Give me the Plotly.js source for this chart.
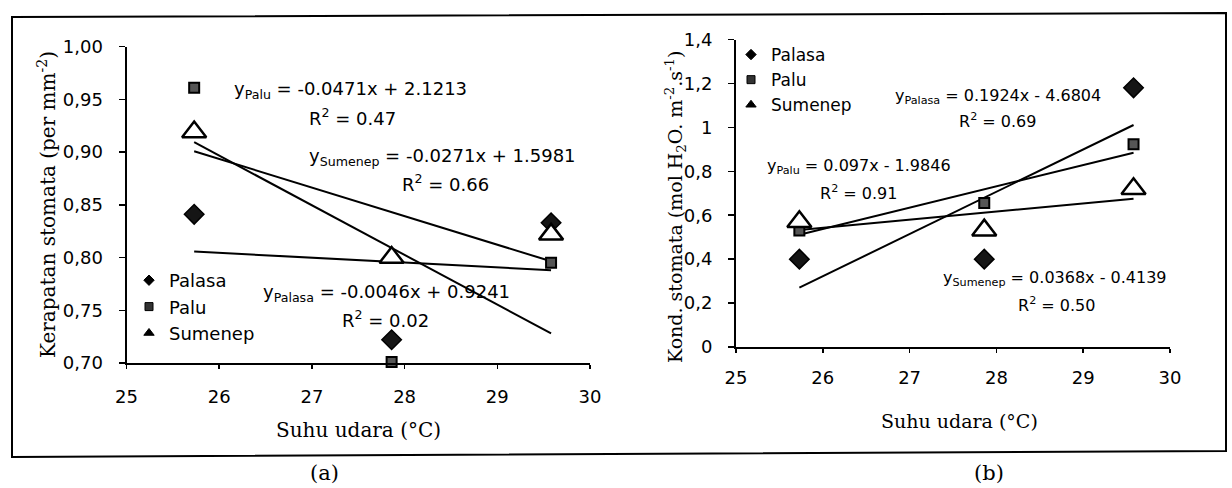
<!DOCTYPE html>
<html><head><meta charset="utf-8">
<script src="https://cdn.plot.ly/plotly-3.0.1.min.js"></script>
<style>html,body{margin:0;padding:0;background:#fff}#chart{width:1232px;height:488px}</style>
</head><body><div id="chart"></div>
<script>
// ---- data ----
const temps = [25.73, 27.86, 29.58];
const seriesNames = ['Palasa', 'Palu', 'Sumenep'];
// (a) stomatal density (per mm^-2)
const densPalasa = [0.841, 0.722, 0.833];
const densPalu = [0.961, 0.701, 0.795];
const densSumenep = [0.919, 0.800, 0.822];
const densSlope = [-0.0046, -0.0471, -0.0271];
const densIntercept = [0.9241, 2.1213, 1.5981];
const densR2 = ['0.02', '0.47', '0.66'];
// (b) stomatal conductance
const condPalasa = [0.40, 0.40, 1.18];
const condPalu = [0.53, 0.656, 0.923];
const condSumenep = [0.57, 0.532, 0.72];
const condSlope = [0.1924, 0.097, 0.0368];
const condIntercept = [-4.6804, -1.9846, -0.4139];
const condR2 = ['0.69', '0.91', '0.50'];
// ticks
const xTicks = [25, 26, 27, 28, 29, 30];
const densTickVals = [0.70, 0.75, 0.80, 0.85, 0.90, 0.95, 1.00];
const densTickText = ['0,70', '0,75', '0,80', '0,85', '0,90', '0,95', '1,00'];
const condTickVals = [0, 0.2, 0.4, 0.6, 0.8, 1, 1.2, 1.4];
const condTickText = ['0', '0,2', '0,4', '0,6', '0,8', '1', '1,2', '1,4'];

// ---- helpers ----
const W = 1232, H = 488;
const px = v => v / W;
const py = v => 1 - v / H;
const SANS = 'DejaVu Sans';
const SERIF = 'DejaVu Serif';

const markerStyles = [
  {symbol: 'diamond', size: 15, color: '#151515', line: {color: '#000', width: 1.5}},
  {symbol: 'square', size: 10, color: '#555', line: {color: '#000', width: 2}},
  {symbol: 'triangle-up', size: 21, color: '#fff', line: {color: '#000', width: 2.5}}
];
const legendStyles = [
  {symbol: 'diamond', size: 8, color: '#000', line: {color: '#000', width: 1}},
  {symbol: 'square', size: 8, color: '#333', line: {color: '#000', width: 1}},
  {symbol: 'triangle-up', size: 9, color: '#000', line: {color: '#000', width: 1}}
];

function eqText(name, slope, intercept) {
  const sign = intercept < 0 ? ' - ' : ' + ';
  return 'y<sub>' + name + '</sub> = ' + String(slope) + 'x' + sign + String(Math.abs(intercept));
}

const traces = [];
function addPanel(values, slopes, intercepts, xa, ya, legendId) {
  const xmin = Math.min(...temps), xmax = Math.max(...temps);
  for (let i = 0; i < 3; i++) {
    traces.push({
      x: [xmin, xmax],
      y: [slopes[i] * xmin + intercepts[i], slopes[i] * xmax + intercepts[i]],
      mode: 'lines', line: {color: '#000', width: 2},
      xaxis: xa, yaxis: ya, showlegend: false, hoverinfo: 'skip'
    });
  }
  for (let i = 0; i < 3; i++) {
    traces.push({
      x: temps, y: values[i], mode: 'markers', marker: markerStyles[i],
      xaxis: xa, yaxis: ya, showlegend: false, cliponaxis: false
    });
  }
  for (let i = 0; i < 3; i++) {
    traces.push({
      x: [null], y: [null], mode: 'markers', name: seriesNames[i],
      marker: legendStyles[i], xaxis: xa, yaxis: ya,
      legend: legendId, showlegend: true
    });
  }
}
addPanel([densPalasa, densPalu, densSumenep], densSlope, densIntercept, 'x', 'y', 'legend');
addPanel([condPalasa, condPalu, condSumenep], condSlope, condIntercept, 'x2', 'y2', 'legend2');

function axisCommon() {
  return {
    showline: true, linecolor: '#000', linewidth: 2, showgrid: false, zeroline: false,
    ticks: 'outside', tickcolor: '#000', tickwidth: 1.5, fixedrange: true,
    tickfont: {family: SANS, size: 18, color: '#000'}
  };
}

const ann = [];
function note(text, x, y, size, family, angle) {
  ann.push({text: text, x: px(x), y: py(y), xref: 'paper', yref: 'paper',
    xanchor: 'center', yanchor: 'middle', showarrow: false, textangle: angle || 0,
    font: {family: family || SANS, size: size, color: '#000'}});
}
const densEqPos = [[386, 293, 385, 319], [350, 90, 352, 117], [443, 157, 445, 183]];
const condEqPos = [[998, 97, 997, 120], [859, 167, 858, 192], [1055, 278, 1056, 304]];
for (let i = 0; i < 3; i++) {
  const p = densEqPos[i];
  note(eqText(seriesNames[i], densSlope[i], densIntercept[i]), p[0], p[1], 18);
  note('R<sup>2</sup> = ' + densR2[i], p[2], p[3], 18);
  const q = condEqPos[i];
  note(eqText(seriesNames[i], condSlope[i], condIntercept[i]), q[0], q[1], 16);
  note('R<sup>2</sup> = ' + condR2[i], q[2], q[3], 16);
}
note('Suhu udara (°C)', 358, 430, 20, SERIF);
note('Kerapatan stomata (per mm<sup>-2</sup>)', 47, 205, 20, SERIF, -90);
note('Suhu udara (°C)', 959, 421, 19, SERIF);
note('Kond. stomata (mol H<sub>2</sub>O. m<sup>-2</sup>.s<sup>-1</sup>)', 675, 207, 19, SERIF, -90);
note('(a)', 324, 473, 21, SERIF);
note('(b)', 989, 473, 21, SERIF);

const frame = 'M' + px(12) + ',' + py(17) + ' L' + px(1226) + ',' + py(13) +
  ' L' + px(1226) + ',' + py(451) + ' L' + px(12) + ',' + py(457) + ' Z';

const layout = {
  width: W, height: H, margin: {l: 0, r: 0, t: 0, b: 0},
  paper_bgcolor: '#fff', plot_bgcolor: 'rgba(0,0,0,0)',
  xaxis: Object.assign(axisCommon(), {domain: [px(126.5), px(590)], range: [25, 30], anchor: 'y',
    tickvals: xTicks, ticklen: 4, ticklabelstandoff: 12}),
  yaxis: Object.assign(axisCommon(), {domain: [py(363), py(46.7)], range: [0.70, 1.00], anchor: 'x',
    tickvals: densTickVals, ticktext: densTickText, ticklen: 6, ticklabelstandoff: 12}),
  xaxis2: Object.assign(axisCommon(), {domain: [px(736), px(1170)], range: [25, 30], anchor: 'y2',
    tickvals: xTicks, ticklen: 4, ticklabelstandoff: 9}),
  yaxis2: Object.assign(axisCommon(), {domain: [py(347), py(39.5)], range: [0, 1.4], anchor: 'x2',
    tickvals: condTickVals, ticktext: condTickText, ticklen: 6, ticklabelstandoff: 12}),
  legend: {x: px(129), y: py(262), xanchor: 'left', yanchor: 'top', bgcolor: 'rgba(0,0,0,0)',
    font: {family: SANS, size: 18, color: '#000'}, itemwidth: 30},
  legend2: {x: px(731), y: py(37), xanchor: 'left', yanchor: 'top', bgcolor: 'rgba(0,0,0,0)',
    font: {family: SANS, size: 17, color: '#000'}, itemwidth: 30},
  annotations: ann,
  shapes: [{type: 'path', xref: 'paper', yref: 'paper', path: frame, line: {color: '#000', width: 2}}],
  showlegend: true
};

Plotly.newPlot('chart', traces, layout, {displayModeBar: false, staticPlot: true});
</script>
</body></html>
